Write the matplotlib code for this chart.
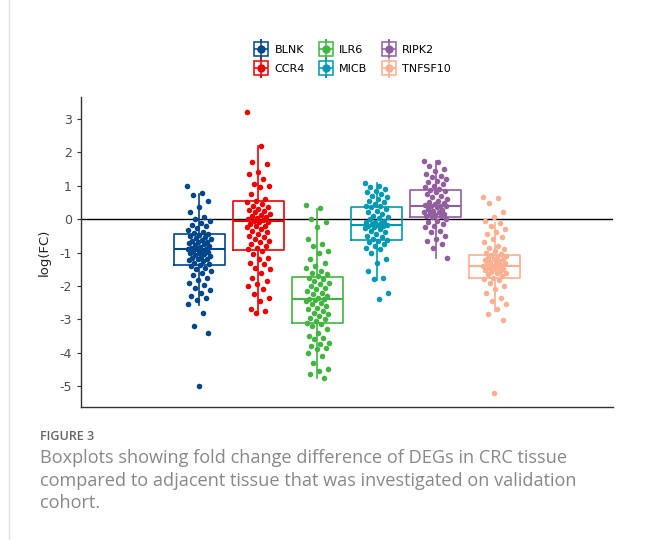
import matplotlib

matplotlib.use("Agg")
import matplotlib.pyplot as plt
import numpy as np
from matplotlib.lines import Line2D
from matplotlib.legend_handler import HandlerTuple

plt.rcParams["axes.unicode_minus"] = False

# Genes and Lancet-style colours
genes = ["BLNK", "CCR4", "ILR6", "MICB", "RIPK2", "TNFSF10"]
colors = ["#00468B", "#ED0000", "#42B540", "#0099B4", "#925E9F", "#FDAF91"]

# log(FC) values
blnk = [1.0, 0.78, 0.72, 0.55, 0.35, 0.22, 0.05, 0.0, -0.05, -0.12, -0.18, -0.22,
        -0.28, -0.32, -0.38, -0.42, -0.45, -0.48, -0.5, -0.55, -0.58, -0.6, -0.62,
        -0.65, -0.68, -0.7, -0.72, -0.75, -0.78, -0.8, -0.82, -0.85, -0.88, -0.9,
        -0.9, -0.92, -0.95, -0.98, -1.0, -1.02, -1.05, -1.08, -1.1, -1.12, -1.15,
        -1.18, -1.2, -1.22, -1.25, -1.3, -1.33, -1.38, -1.4, -1.45, -1.5, -1.55,
        -1.6, -1.68, -1.75, -1.82, -1.9, -1.98, -2.05, -2.12, -2.2, -2.3, -2.35,
        -2.42, -2.55, -2.8, -3.2, -3.4, -5.0]
ccr4 = [3.2, 2.18, 1.7, 1.65, 1.4, 1.35, 1.2, 1.05, 1.0, 0.95, 0.75, 0.6, 0.55, 0.5,
        0.45, 0.4, 0.35, 0.3, 0.28, 0.25, 0.2, 0.15, 0.12, 0.1, 0.05, 0.02, 0.0,
        -0.02, -0.05, -0.08, -0.1, -0.15, -0.2, -0.22, -0.25, -0.3, -0.35, -0.4,
        -0.45, -0.5, -0.55, -0.6, -0.65, -0.7, -0.75, -0.8, -0.85, -0.9, -0.95,
        -1.05, -1.15, -1.2, -1.3, -1.35, -1.45, -1.5, -1.6, -1.75, -1.85, -1.95,
        -2.0, -2.1, -2.25, -2.35, -2.45, -2.7, -2.75, -2.8]
ilr6 = [0.42, 0.33, 0.0, -0.1, -0.25, -0.6, -0.75, -0.8, -0.95, -1.0, -1.2, -1.3,
        -1.4, -1.45, -1.55, -1.6, -1.65, -1.7, -1.75, -1.8, -1.85, -1.9, -1.95,
        -2.0, -2.05, -2.1, -2.15, -2.2, -2.25, -2.3, -2.35, -2.38, -2.4, -2.42,
        -2.45, -2.5, -2.55, -2.6, -2.65, -2.7, -2.75, -2.8, -2.85, -2.9, -2.95,
        -3.0, -3.05, -3.1, -3.15, -3.2, -3.3, -3.4, -3.5, -3.55, -3.6, -3.7, -3.75,
        -3.8, -3.85, -3.9, -4.0, -4.1, -4.3, -4.5, -4.55, -4.65, -4.76]
micb = [1.08, 1.0, 0.95, 0.9, 0.85, 0.8, 0.75, 0.7, 0.65, 0.6, 0.55, 0.5, 0.45, 0.4,
        0.38, 0.35, 0.3, 0.25, 0.2, 0.15, 0.1, 0.05, 0.02, 0.0, -0.05, -0.08, -0.1,
        -0.12, -0.15, -0.18, -0.18, -0.2, -0.22, -0.25, -0.28, -0.3, -0.35, -0.4,
        -0.45, -0.5, -0.55, -0.6, -0.63, -0.65, -0.7, -0.75, -0.8, -0.85, -0.9,
        -1.0, -1.2, -1.3, -1.55, -1.75, -1.8, -2.2, -2.4]
ripk2 = [1.75, 1.72, 1.6, 1.5, 1.45, 1.35, 1.3, 1.25, 1.2, 1.15, 1.1, 1.05, 1.0,
         0.95, 0.9, 0.88, 0.85, 0.8, 0.75, 0.7, 0.65, 0.6, 0.55, 0.5, 0.48, 0.45,
         0.42, 0.4, 0.4, 0.38, 0.35, 0.3, 0.28, 0.25, 0.22, 0.2, 0.18, 0.15, 0.12,
         0.1, 0.08, 0.05, 0.0, -0.05, -0.1, -0.15, -0.2, -0.25, -0.35, -0.4, -0.5,
         -0.6, -0.65, -0.75, -0.85, -1.15]
tnfsf10 = [0.66, 0.64, 0.48, 0.21, 0.06, -0.06, -0.12, -0.2, -0.3, -0.39, -0.45,
           -0.55, -0.6, -0.7, -0.8, -0.85, -0.9, -0.95, -1.0, -1.05, -1.08, -1.1,
           -1.12, -1.15, -1.18, -1.2, -1.22, -1.25, -1.28, -1.3, -1.32, -1.35,
           -1.38, -1.4, -1.4, -1.42, -1.45, -1.48, -1.5, -1.52, -1.55, -1.58, -1.6,
           -1.62, -1.65, -1.7, -1.75, -1.78, -1.82, -1.9, -2.0, -2.1, -2.2, -2.35,
           -2.45, -2.55, -2.7, -2.85, -3.02, -5.2]
values = [blnk, ccr4, ilr6, micb, ripk2, tnfsf10]

# box statistics as drawn in the figure
q1 = [-1.38, -0.93, -3.12, -0.63, 0.06, -1.77]
med = [-0.90, -0.05, -2.40, -0.18, 0.40, -1.40]
q3 = [-0.45, 0.54, -1.73, 0.36, 0.87, -1.08]
whislo = [-2.57, -2.80, -4.76, -1.83, -1.15, -2.75]
whishi = [0.75, 2.18, 0.30, 1.08, 1.75, -0.12]

caption_title = "FIGURE 3"
caption = ("Boxplots showing fold change difference of DEGs in CRC tissue\n"
           "compared to adjacent tissue that was investigated on validation\n"
           "cohort.")

fig = plt.figure(figsize=(6.48, 5.4), dpi=100, facecolor="white")
ax = fig.add_axes([0.125, 0.246, 0.821, 0.574])

positions = np.arange(1, len(genes) + 1)
for i, g in enumerate(genes):
    st = [{"q1": q1[i], "med": med[i], "q3": q3[i], "whislo": whislo[i],
           "whishi": whishi[i], "fliers": []}]
    c = colors[i]
    ax.bxp(st, positions=[positions[i]], widths=0.86, showcaps=False,
           patch_artist=False, manage_ticks=False,
           boxprops=dict(color=c, linewidth=1.2),
           medianprops=dict(color=c, linewidth=1.5),
           whiskerprops=dict(color=c, linewidth=1.2), zorder=2)
    v = np.asarray(values[i])
    # deterministic jitter around the category position
    jit = ((np.arange(len(v)) * 0.618034) % 1 - 0.5) * 0.4
    ax.scatter(positions[i] + jit, v, s=16, color=c, linewidths=0, zorder=3)

ax.axhline(0, color="black", linewidth=1.0, zorder=1)
ax.set_xlim(-1, 8)
ax.set_ylim(-5.63, 3.65)
ax.set_yticks(np.arange(-5, 4))
ax.set_xticks([])
ax.tick_params(axis="y", labelsize=9, colors="#333333", labelcolor="#4D4D4D", length=3)
for side in ["top", "right"]:
    ax.spines[side].set_visible(False)
for side in ["left", "bottom"]:
    ax.spines[side].set_color("#333333")
    ax.spines[side].set_linewidth(1.0)
ax.set_ylabel("log(FC)", fontsize=9.5, color="#222222", labelpad=6)

# legend with boxplot-like keys (box, whisker, median and point overlaid)
handles = []
for c in colors:
    h = (Line2D([], [], color=c, marker="|", markersize=14, linestyle="none", markeredgewidth=1.1),
         Line2D([], [], color=c, marker="s", markersize=10, markerfacecolor="white",
                linestyle="none", markeredgewidth=1.1),
         Line2D([], [], color=c, marker="_", markersize=10, linestyle="none", markeredgewidth=1.1),
         Line2D([], [], color=c, marker="|", markersize=14, linestyle="none", markeredgewidth=1.1),
         Line2D([], [], color=c, marker="o", markersize=5, linestyle="none"))
    handles.append(h)
fig.legend(handles, genes, ncol=3, loc="center", bbox_to_anchor=(0.545, 0.89),
           frameon=False, fontsize=8, handler_map={tuple: HandlerTuple(ndivide=1)},
           handlelength=1.0, handletextpad=0.7, columnspacing=1.4, labelspacing=0.75)

# page decorations
fig.add_artist(Line2D([0.014, 0.014], [0, 1], color="#DDDDDD", linewidth=1.0))
fig.text(0.062, 0.191, caption_title, fontsize=9, color="#666666",
         family=["Open Sans", "DejaVu Sans"], fontweight="semibold", va="center")
fig.text(0.062, 0.168, caption, fontsize=13.1, color="#888888",
         family=["Open Sans", "DejaVu Sans"], va="top", linespacing=1.32)

fig.savefig("out.png", dpi=100, facecolor="white")
